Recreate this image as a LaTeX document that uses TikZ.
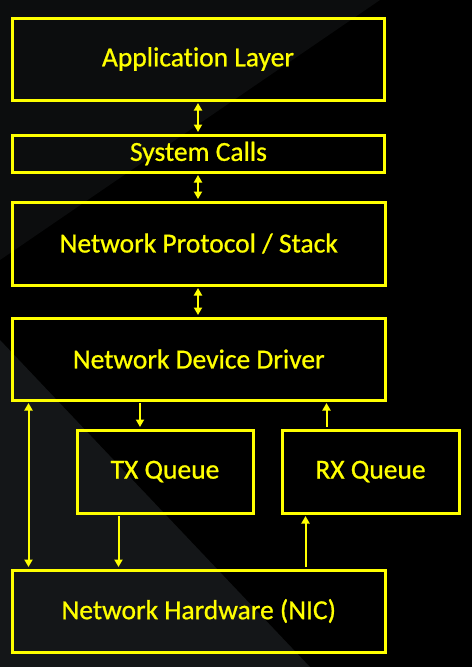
\documentclass[tikz,border=0pt]{standalone}
\usepackage{fontspec}
\setmainfont{Carlito}[Ligatures={NoCommon}, RawFeature={embolden=0.8}]
\usetikzlibrary{arrows.meta}
\definecolor{ylw}{RGB}{255,255,0}
\definecolor{bgA}{RGB}{0,0,0}
\definecolor{bgB}{RGB}{20,22,24}
\definecolor{bgC}{RGB}{12,13,14}
\tikzset{
  layerbox/.style={draw=ylw, line width=3pt, rectangle, inner sep=0pt, text=ylw,
    font=\fontsize{27.5}{30}\selectfont},
  onearrow/.style={draw=ylw, line width=2pt, -{Triangle[length=7.5pt,width=8pt]}},
  twoarrow/.style={draw=ylw, line width=2pt, {Triangle[length=7.5pt,width=8pt]}-{Triangle[length=7.5pt,width=8pt]}},
}
\begin{document}
\begin{tikzpicture}[x=1pt,y=-1pt]
\useasboundingbox (0,0) rectangle (472,667);
\fill[bgA] (0,0) rectangle (472,667);
\fill[bgC] (0,0) -- (380,0) -- (0,260) -- cycle;
\fill[bgB] (0,340) -- (310,667) -- (0,667) -- cycle;
% boxes
\node[layerbox, minimum width=372pt, minimum height=82pt] (app) at (198,59) {Application Layer};
\node[layerbox, minimum width=372pt, minimum height=37pt] (sys) at (198.5,153.5) {System Calls};
\node[layerbox, minimum width=372.5pt, minimum height=83pt] (prot) at (198.75,243.5) {Network Protocol / Stack};
\node[layerbox, minimum width=372.5pt, minimum height=82pt] (drv) at (198.75,359) {Network Device Driver};
\node[layerbox, minimum width=176pt, minimum height=83pt] (tx) at (165,471.5) {TX Queue};
\node[layerbox, minimum width=177pt, minimum height=83pt] (rx) at (370.5,471.5) {RX Queue};
\node[layerbox, minimum width=372.5pt, minimum height=82pt] (nic) at (198.75,611) {Network Hardware (NIC)};
% connector positions
\coordinate (lx) at ([xshift=17.5pt]nic.north west);
\coordinate (t1) at ([xshift=64.5pt]tx.north west);
\coordinate (t2) at ([xshift=43pt]tx.south west);
\coordinate (r1) at ([xshift=25pt]rx.south west);
\coordinate (r2) at ([xshift=46pt]rx.north west);
% connectors
\draw[twoarrow, shorten <=1.5pt, shorten >=1.5pt] (app.south) -- (app.south |- sys.north);
\draw[twoarrow, shorten <=1.5pt, shorten >=1.5pt] (app.south |- sys.south) -- (app.south |- prot.north);
\draw[twoarrow, shorten <=1.5pt, shorten >=1.5pt] (app.south |- prot.south) -- (app.south |- drv.north);
\draw[twoarrow, shorten <=1.5pt, shorten >=1.5pt] (lx |- drv.south) -- (lx);
\draw[onearrow, shorten <=1.5pt, shorten >=1.5pt] (t1 |- drv.south) -- (t1);
\draw[onearrow, shorten <=1.5pt, shorten >=1.5pt] (t2) -- (t2 |- nic.north);
\draw[onearrow, shorten <=1.5pt, shorten >=1.5pt] (r1 |- nic.north) -- (r1);
\draw[onearrow, shorten <=1.5pt, shorten >=1.5pt] (r2) -- (r2 |- drv.south);
\end{tikzpicture}
\end{document}
